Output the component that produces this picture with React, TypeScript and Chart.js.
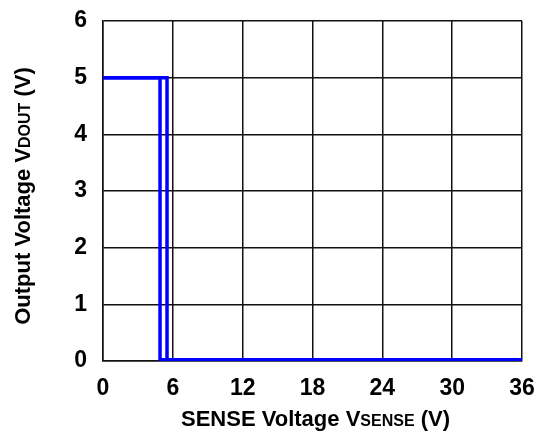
import React, { useEffect, useRef } from "react";
import { Chart, registerables } from "chart.js";

Chart.register(...registerables);

// SENSE voltage (V) and output voltage (V) for the two sweep directions
const upSweepX = [0, 5.5, 5.5, 36];
const upSweepY = [5, 5, 0.02, 0.02];
const downSweepX = [0, 4.9, 4.9, 36];
const downSweepY = [5, 5, 0.02, 0.02];

const xTicks = [0, 6, 12, 18, 24, 30, 36];
const yTicks = [0, 1, 2, 3, 4, 5, 6];

const xTitleMain = "SENSE Voltage V";
const xTitleSub = "SENSE";
const xTitleEnd = " (V)";
const yTitleMain = "Output Voltage V";
const yTitleSub = "DOUT";
const yTitleEnd = " (V)";

const FONT = "'Liberation Sans', Arial, Helvetica, sans-serif";

function drawMixed(ctx: CanvasRenderingContext2D, parts: [string, number][], cx: number, baseline: number) {
  let total = 0;
  const widths = parts.map(([t, s]) => {
    ctx.font = `bold ${s}px ${FONT}`;
    const w = ctx.measureText(t).width;
    total += w;
    return w;
  });
  let x = cx - total / 2;
  ctx.textAlign = "left";
  ctx.textBaseline = "alphabetic";
  parts.forEach(([t, s], i) => {
    ctx.font = `bold ${s}px ${FONT}`;
    ctx.fillText(t, x, baseline);
    x += widths[i];
  });
}

const titlePlugin = {
  id: "mixedTitles",
  afterDraw(chart: any) {
    const ctx = chart.ctx as CanvasRenderingContext2D;
    const area = chart.chartArea;
    ctx.save();
    ctx.fillStyle = "#000";
    drawMixed(
      ctx,
      [
        [xTitleMain, 22],
        [xTitleSub, 16],
        [xTitleEnd, 22],
      ],
      (area.left + area.right) / 2 + 3,
      426
    );
    ctx.translate(30, (area.top + area.bottom) / 2 + 5);
    ctx.rotate(-Math.PI / 2);
    drawMixed(
      ctx,
      [
        [yTitleMain, 22],
        [yTitleSub, 16],
        [yTitleEnd, 22],
      ],
      0,
      0
    );
    ctx.restore();
  },
};

export default function App() {
  const ref = useRef<HTMLCanvasElement | null>(null);

  useEffect(() => {
    document.body.style.margin = "0";
    const canvas = ref.current;
    if (!canvas) return;
    const chart = new Chart(canvas, {
      type: "line",
      data: {
        datasets: [
          {
            data: upSweepX.map((x, i) => ({ x, y: upSweepY[i] })),
            borderColor: "#0000ff",
            borderWidth: 3.5,
            pointRadius: 0,
            fill: false,
            tension: 0,
          },
          {
            data: downSweepX.map((x, i) => ({ x, y: downSweepY[i] })),
            borderColor: "#0000ff",
            borderWidth: 3.5,
            pointRadius: 0,
            fill: false,
            tension: 0,
          },
        ],
      },
      options: {
        responsive: false,
        animation: false,
        devicePixelRatio: 1,
        layout: { padding: { left: 0, right: 16, top: 21, bottom: 0 } },
        plugins: {
          legend: { display: false },
          tooltip: { enabled: false },
        },
        scales: {
          x: {
            type: "linear",
            min: xTicks[0],
            max: xTicks[xTicks.length - 1],
            afterBuildTicks: (s: any) => {
              s.ticks = xTicks.map((v) => ({ value: v }));
            },
            afterFit: (s: any) => {
              s.height = 71;
              s.paddingLeft = 0;
              s.paddingRight = 0;
            },
            grid: { color: "#111", lineWidth: 1.5, drawTicks: false },
            border: { color: "#111", width: 1.5 },
            ticks: {
              color: "#000",
              padding: 14,
              maxRotation: 0,
              autoSkip: false,
              font: { family: FONT, size: 23, weight: "bold" },
            },
          },
          y: {
            type: "linear",
            min: yTicks[0],
            max: yTicks[yTicks.length - 1],
            afterBuildTicks: (s: any) => {
              s.ticks = yTicks.map((v) => ({ value: v }));
            },
            afterFit: (s: any) => {
              s.width = 103;
              s.paddingTop = 0;
              s.paddingBottom = 0;
            },
            grid: { color: "#111", lineWidth: 1.5, drawTicks: false },
            border: { color: "#111", width: 1.5 },
            ticks: {
              color: "#000",
              padding: 16,
              autoSkip: false,
              font: { family: FONT, size: 23, weight: "bold" },
            },
          },
        },
      },
      plugins: [titlePlugin],
    } as any);
    return () => chart.destroy();
  }, []);

  return (
    <div style={{ position: "absolute", left: 0, top: 0, width: 538, height: 432, background: "#fff" }}>
      <canvas ref={ref} width={538} height={432} style={{ display: "block", width: 538, height: 432 }} />
    </div>
  );
}
